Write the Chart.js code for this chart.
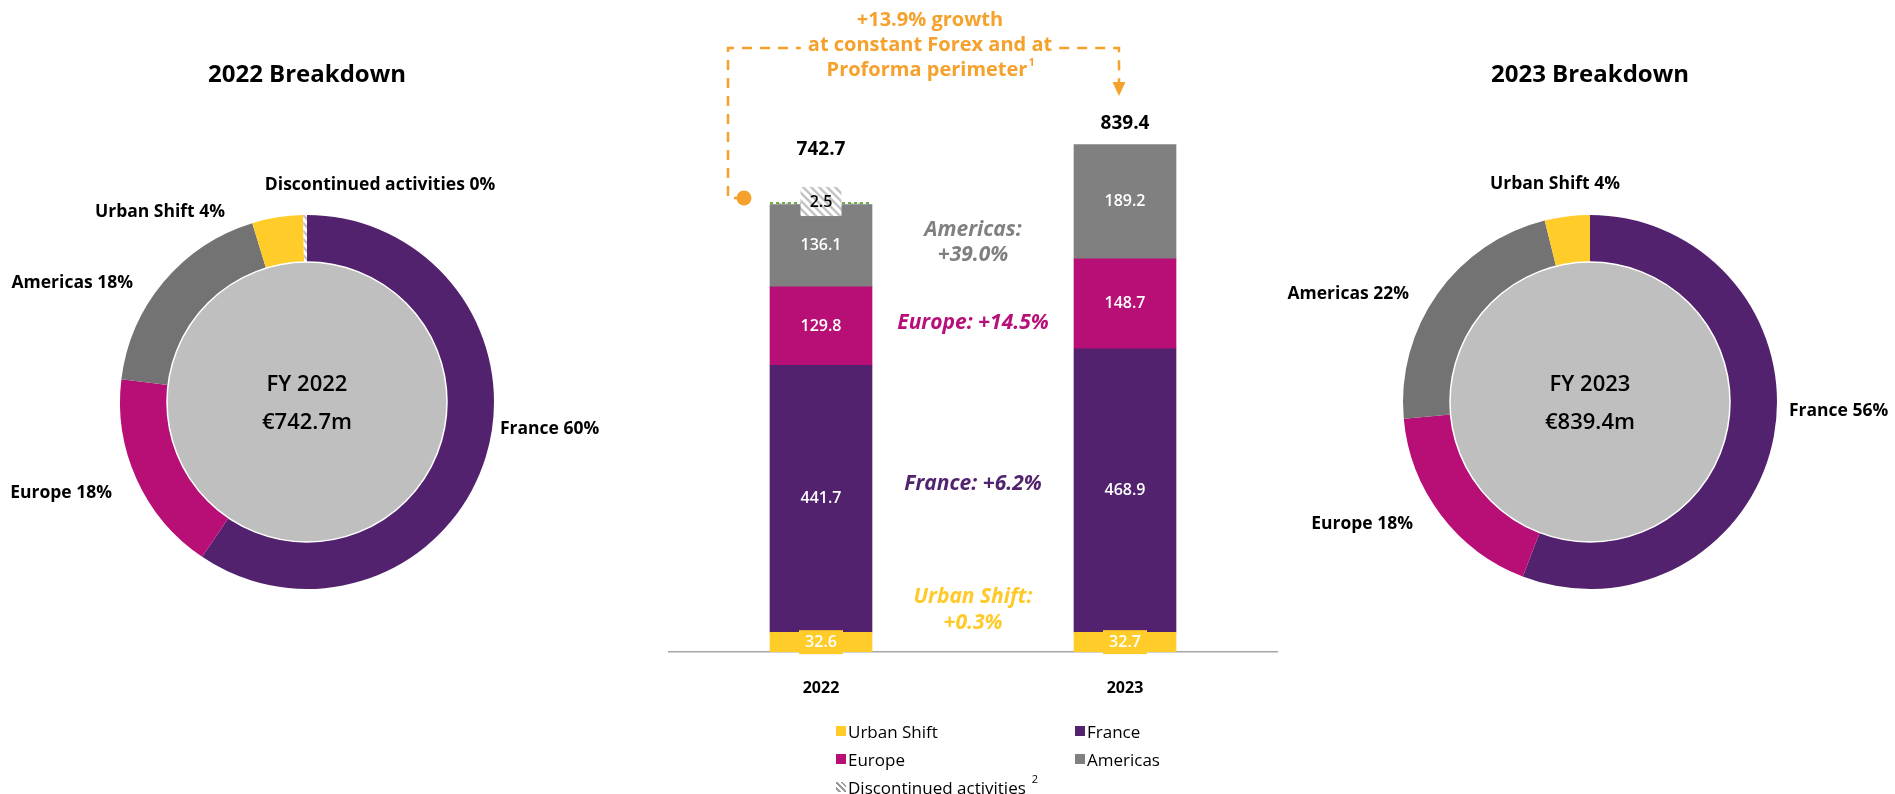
<!DOCTYPE html>
<html>
<head>
<meta charset="utf-8">
<script src="https://cdn.jsdelivr.net/npm/chart.js@4.4.1/dist/chart.umd.min.js"></script>
<style>
    html, body { margin: 0; padding: 0; background: #fff; }
    body { width: 1895px; height: 794px; position: relative; overflow: hidden; font-family: 'Open Sans', sans-serif; }
    canvas { position: absolute; top: 0; }
    #donut-2022 { left: 0; }
    #bars { left: 640px; }
    #donut-2023 { left: 1280px; }
    #legend { position: absolute; left: 836px; top: 717px; display: grid; grid-template-columns: 239px 200px; font-size: 17px; color: #000; }
    #legend .item { display: flex; align-items: center; height: 28px; white-space: nowrap; }
    #legend .swatch { width: 10px; height: 10px; margin-right: 2px; flex: none; }
    #legend sup { font-size: 11px; margin-left: 6px; position: relative; top: -9px; }
</style>
</head>
<body>
<canvas id="donut-2022" width="620" height="794"></canvas>
<canvas id="bars" width="640" height="794"></canvas>
<canvas id="donut-2023" width="615" height="794"></canvas>
<div id="legend"></div>
<script>
// --- data ---
const years = ['2022', '2023'];
const segments = ['Urban Shift', 'France', 'Europe', 'Americas', 'Discontinued activities'];
const urbanShift = [32.6, 32.7];
const france = [441.7, 468.9];
const europe = [129.8, 148.7];
const americas = [136.1, 189.2];
const discontinued = [2.5, null];
const totals = [742.7, 839.4];

// donut slices run clockwise from 12 o'clock
const donutOrder = ['France', 'Europe', 'Americas', 'Urban Shift', 'Discontinued activities'];
const share2022 = [60, 18, 18, 4, 0];
const share2023 = [56, 18, 22, 4];

const growthLines = ['+13.9% growth', 'at constant Forex and at', 'Proforma perimeter'];
const regionGrowth = [
    { lines: ['Americas:', '+39.0%'], color: '#808080' },
    { lines: ['Europe: +14.5%'], color: '#B80F78' },
    { lines: ['France: +6.2%'], color: '#52236F' },
    { lines: ['Urban Shift:', '+0.3%'], color: '#FFC928' }
];

const FONT = "'Open Sans', sans-serif";
const YELLOW = '#FFCC29';
const PURPLE = '#53226F';
const MAGENTA = '#B80F76';
const BAR_GRAY = '#808080';
const DONUT_GRAY = '#737373';
const ORANGE = '#F5A12B';

function makeHatch() {
    const c = document.createElement('canvas');
    c.width = 8; c.height = 8;
    const g = c.getContext('2d');
    g.fillStyle = '#fff';
    g.fillRect(0, 0, 8, 8);
    g.strokeStyle = '#C4C4C4';
    g.lineWidth = 2.5;
    g.beginPath();
    g.moveTo(-2, -2); g.lineTo(10, 10);
    g.moveTo(-2, 6); g.lineTo(2, 10);
    g.moveTo(6, -2); g.lineTo(10, 2);
    g.stroke();
    return g.createPattern(c, 'repeat');
}
const HATCH = makeHatch();

const barColors = {
    'Urban Shift': YELLOW,
    'France': PURPLE,
    'Europe': MAGENTA,
    'Americas': BAR_GRAY,
    'Discontinued activities': HATCH
};
const donutColors = Object.assign({}, barColors, { 'Americas': DONUT_GRAY });

// --- donuts ---
const donutDecor = {
    id: 'donutDecor',
    afterDatasetsDraw(chart, args, opts) {
        const ctx = chart.ctx;
        const arc = chart.getDatasetMeta(0).data[0];
        ctx.save();
        ctx.beginPath();
        ctx.arc(arc.x, arc.y, arc.innerRadius, 0, Math.PI * 2);
        ctx.fillStyle = '#BFBFBF';
        ctx.fill();
        ctx.lineWidth = 1.5;
        ctx.strokeStyle = '#fff';
        ctx.stroke();

        ctx.fillStyle = '#000';
        ctx.textAlign = 'center';
        ctx.textBaseline = 'middle';
        ctx.font = `600 22px ${FONT}`;
        ctx.fillText(opts.center[0], arc.x, arc.y - 17);
        ctx.fillText(opts.center[1], arc.x, arc.y + 21);

        ctx.font = `bold 17.5px ${FONT}`;
        const labels = chart.data.labels;
        const shares = chart.data.datasets[0].shares;
        opts.pos.forEach((p, i) => {
            ctx.textAlign = p.align;
            ctx.fillText(`${labels[i]} ${shares[i]}%`, p.x, p.y);
        });
        ctx.restore();
    }
};

function renderDonut(canvasId, yearIdx, shares, title, center, padding, pos) {
    const names = donutOrder.slice(0, shares.length);
    const seriesByName = {
        'France': france, 'Europe': europe, 'Americas': americas,
        'Urban Shift': urbanShift, 'Discontinued activities': discontinued
    };
    return new Chart(document.getElementById(canvasId), {
        type: 'doughnut',
        data: {
            labels: names,
            datasets: [{
                data: names.map(n => seriesByName[n][yearIdx]),
                shares: shares,
                backgroundColor: names.map(n => donutColors[n]),
                borderWidth: 0
            }]
        },
        options: {
            responsive: false,
            animation: false,
            radius: 187,
            cutout: 140,
            layout: { padding: padding },
            plugins: {
                legend: { display: false },
                tooltip: { enabled: false },
                title: {
                    display: true,
                    text: title,
                    color: '#000',
                    font: { family: FONT, size: 24, weight: 'bold' },
                    padding: { top: 61, bottom: 125.2 }
                },
                donutDecor: { center: center, pos: pos }
            }
        },
        plugins: [donutDecor]
    });
}

renderDonut('donut-2022', 0, share2022, '2022 Breakdown', ['FY 2022', '€742.7m'],
    { left: 120, right: 126, top: 0, bottom: 205 },
    [
        { x: 500, y: 429, align: 'left' },
        { x: 112, y: 493, align: 'right' },
        { x: 133, y: 283, align: 'right' },
        { x: 160, y: 212, align: 'center' },
        { x: 380, y: 185, align: 'center' }
    ]);

renderDonut('donut-2023', 1, share2023, '2023 Breakdown', ['FY 2023', '€839.4m'],
    { left: 123, right: 118, top: 0, bottom: 205 },
    [
        { x: 509, y: 411, align: 'left' },
        { x: 133, y: 524, align: 'right' },
        { x: 129, y: 294, align: 'right' },
        { x: 275, y: 184, align: 'center' }
    ]);

// --- stacked bars ---
const barDecor = {
    id: 'barDecor',
    afterDatasetsDraw(chart) {
        const ctx = chart.ctx;
        const sets = chart.data.datasets;
        const metas = sets.map((d, i) => chart.getDatasetMeta(i));
        ctx.save();
        ctx.textAlign = 'center';
        ctx.textBaseline = 'middle';

        years.forEach((yr, j) => {
            let top = null;
            let hasDisc = false;
            sets.forEach((ds, i) => {
                const v = ds.data[j];
                if (v == null) return;
                const el = metas[i].data[j];
                const cy = (el.y + el.base) / 2;
                top = el.y;
                if (ds.label === 'Discontinued activities') {
                    hasDisc = true;
                    // green dotted edge on top of the stack
                    ctx.save();
                    ctx.strokeStyle = '#70AD47';
                    ctx.lineWidth = 2;
                    ctx.setLineDash([3, 3]);
                    ctx.beginPath();
                    ctx.moveTo(el.x - el.width / 2, el.y);
                    ctx.lineTo(el.x + el.width / 2, el.y);
                    ctx.stroke();
                    ctx.restore();
                    ctx.fillStyle = HATCH;
                    ctx.fillRect(el.x - 20.5, el.y - 16, 41, 29);
                    ctx.fillStyle = '#000';
                    ctx.font = `600 16px ${FONT}`;
                    ctx.fillText(v.toFixed(1), el.x, el.y - 1);
                } else if (ds.label === 'Urban Shift') {
                    ctx.fillStyle = YELLOW;
                    ctx.fillRect(el.x - 22, cy - 12, 44, 24);
                    ctx.fillStyle = '#fff';
                    ctx.font = `600 16px ${FONT}`;
                    ctx.fillText(v.toFixed(1), el.x, cy);
                } else {
                    ctx.fillStyle = '#fff';
                    ctx.font = `600 16px ${FONT}`;
                    ctx.fillText(v.toFixed(1), el.x, cy);
                }
            });
            const x = metas[0].data[j].x;
            ctx.fillStyle = '#000';
            ctx.font = `bold 19px ${FONT}`;
            ctx.fillText(totals[j].toFixed(1), x, top - (hasDisc ? 53 : 21));
        });

        // regional growth call-outs between the bars
        const midX = (metas[0].data[0].x + metas[0].data[1].x) / 2;
        const calloutY = [[230, 255], [323], [484], [597, 623]];
        ctx.font = `italic bold 21px ${FONT}`;
        regionGrowth.forEach((g, i) => {
            ctx.fillStyle = g.color;
            g.lines.forEach((t, k) => ctx.fillText(t, midX, calloutY[i][k]));
        });

        // overall growth bracket
        const b0 = metas[0].data[0];
        const b1 = metas[0].data[1];
        const leftX = b0.x - b0.width / 2 - 42;
        const dotX = b0.x - b0.width / 2 - 26;
        const dotY = 198;
        const lineY = 48;
        const rightX = b1.x - 6;
        const textX = 290;

        ctx.font = `bold 20px ${FONT}`;
        const midW = ctx.measureText(growthLines[1]).width;

        ctx.strokeStyle = ORANGE;
        ctx.lineWidth = 2.5;
        ctx.setLineDash([10, 8]);
        ctx.beginPath();
        ctx.moveTo(dotX, dotY);
        ctx.lineTo(leftX, dotY);
        ctx.lineTo(leftX, lineY);
        ctx.lineTo(textX - midW / 2 - 7, lineY);
        ctx.stroke();
        ctx.beginPath();
        ctx.moveTo(textX + midW / 2 + 7, lineY);
        ctx.lineTo(rightX, lineY);
        ctx.lineTo(rightX, 84);
        ctx.stroke();
        ctx.setLineDash([]);

        ctx.fillStyle = ORANGE;
        ctx.beginPath();
        ctx.moveTo(rightX - 6.5, 82);
        ctx.lineTo(rightX + 6.5, 82);
        ctx.lineTo(rightX, 96);
        ctx.closePath();
        ctx.fill();
        ctx.beginPath();
        ctx.arc(dotX, dotY, 7.5, 0, Math.PI * 2);
        ctx.fill();

        ctx.fillText(growthLines[0], textX, 20);
        ctx.fillText(growthLines[1], textX, 45);
        const w3 = ctx.measureText(growthLines[2]).width;
        ctx.fillText(growthLines[2], textX - 3, 70);
        ctx.font = `bold 11px ${FONT}`;
        ctx.textAlign = 'left';
        ctx.fillText('1', textX - 3 + w3 / 2 + 1, 63);
        ctx.restore();
    }
};

new Chart(document.getElementById('bars'), {
    type: 'bar',
    data: {
        labels: years,
        datasets: [
            { label: 'Urban Shift', data: urbanShift },
            { label: 'France', data: france },
            { label: 'Europe', data: europe },
            { label: 'Americas', data: americas },
            { label: 'Discontinued activities', data: discontinued }
        ].map(d => Object.assign(d, { backgroundColor: barColors[d.label], borderWidth: 0 }))
    },
    options: {
        responsive: false,
        animation: false,
        layout: { padding: { left: 29, right: 3, top: 47.5, bottom: 0 } },
        datasets: { bar: { barThickness: 102 } },
        scales: {
            x: {
                stacked: true,
                grid: { display: false, drawTicks: false },
                border: { display: true, color: '#A6A6A6', width: 1.5 },
                ticks: { color: '#000', font: { family: FONT, size: 16, weight: 'bold' }, padding: 27 },
                afterFit(scale) { scale.height = 142; }
            },
            y: { stacked: true, display: false, min: 0, max: 1000 }
        },
        plugins: {
            legend: { display: false },
            tooltip: { enabled: false }
        }
    },
    plugins: [barDecor]
});

// --- legend (two columns, row-major like the original) ---
const legend = document.getElementById('legend');
segments.forEach(name => {
    const item = document.createElement('div');
    item.className = 'item';
    const sw = document.createElement('span');
    sw.className = 'swatch';
    if (name === 'Discontinued activities') {
        sw.style.background = 'repeating-linear-gradient(45deg, #fff 0 2px, #9a9a9a 2px 4px)';
    } else {
        sw.style.background = barColors[name];
    }
    item.appendChild(sw);
    const txt = document.createElement('span');
    txt.textContent = name;
    item.appendChild(txt);
    if (name === 'Discontinued activities') {
        const sup = document.createElement('sup');
        sup.textContent = '2';
        item.appendChild(sup);
    }
    legend.appendChild(item);
});
</script>
</body>
</html>
